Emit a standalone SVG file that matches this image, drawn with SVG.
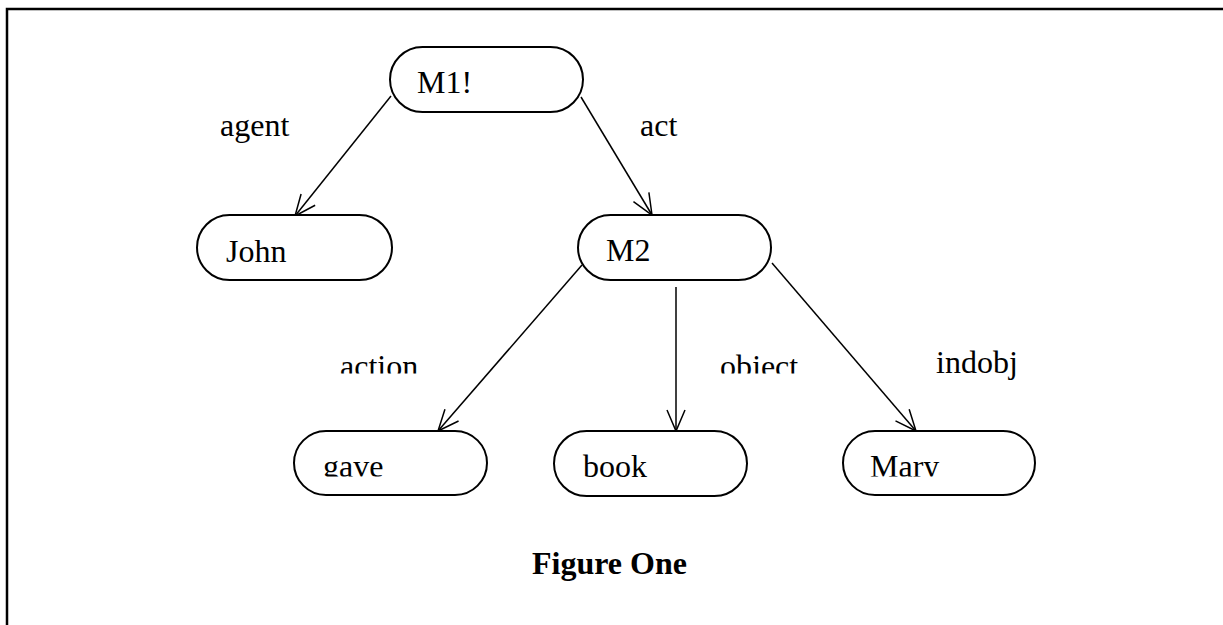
<svg xmlns="http://www.w3.org/2000/svg" width="1223" height="625" viewBox="0 0 1223 625">
<style>
.node{fill:#fff;stroke:#000;stroke-width:2}
.t{font-family:"Liberation Serif","Times New Roman",serif;font-size:32px;fill:#000}
.b{font-weight:bold}
.c{stroke:#000;stroke-width:1.5;fill:none}
</style>
<defs>
<marker id="arr" markerUnits="userSpaceOnUse" orient="auto" refX="0" refY="0" markerWidth="30" markerHeight="30" overflow="visible">
<path d="M-21,-9 L0,0 L-21,9" fill="none" stroke="#000" stroke-width="1.5"/>
</marker>
<clipPath id="clipUpper"><rect x="0" y="0" width="1223" height="373.5"/></clipPath>
<clipPath id="clipLower"><rect x="0" y="0" width="1223" height="476.5"/></clipPath>
</defs>
<rect width="1223" height="625" fill="#fff"/>
<path d="M7,625 L7,9 L1223,9" fill="none" stroke="#000" stroke-width="2.5"/>
<g id="connectors">
<line class="c" x1="391" y1="96" x2="295" y2="216" marker-end="url(#arr)"/>
<line class="c" x1="581" y1="97" x2="652" y2="215" marker-end="url(#arr)"/>
<line class="c" x1="582" y1="265" x2="438" y2="431" marker-end="url(#arr)"/>
<line class="c" x1="676" y1="287" x2="676" y2="431" marker-end="url(#arr)"/>
<line class="c" x1="772" y1="263" x2="916" y2="431" marker-end="url(#arr)"/>
</g>
<g id="labels">
<text class="t" x="220" y="136">agent</text>
<text class="t" x="640" y="136">act</text>
<text class="t" x="340" y="377" clip-path="url(#clipUpper)">action</text>
<text class="t" x="720" y="377" clip-path="url(#clipUpper)">object</text>
<text class="t" x="936" y="373">indobj</text>
</g>
<g id="M1"><rect class="node" x="390" y="47" width="193" height="65" rx="32.5"/><text class="t" x="417" y="93">M1!</text></g>
<g id="John"><rect class="node" x="197" y="215" width="195" height="65" rx="32.5"/><text class="t" x="226" y="262">John</text></g>
<g id="M2"><rect class="node" x="578" y="215" width="193" height="65" rx="32.5"/><text class="t" x="606" y="261">M2</text></g>
<g id="gave"><rect class="node" x="294" y="431" width="193" height="64" rx="32"/><text class="t" x="323" y="477" clip-path="url(#clipLower)">gave</text></g>
<g id="book"><rect class="node" x="554" y="431" width="193" height="65" rx="32.5"/><text class="t" x="583" y="477">book</text></g>
<g id="Mary"><rect class="node" x="843" y="431" width="192" height="64" rx="32"/><text class="t" x="870" y="477" clip-path="url(#clipLower)">Mary</text></g>
<g id="caption"><text class="t b" x="532" y="574">Figure One</text></g>
</svg>
